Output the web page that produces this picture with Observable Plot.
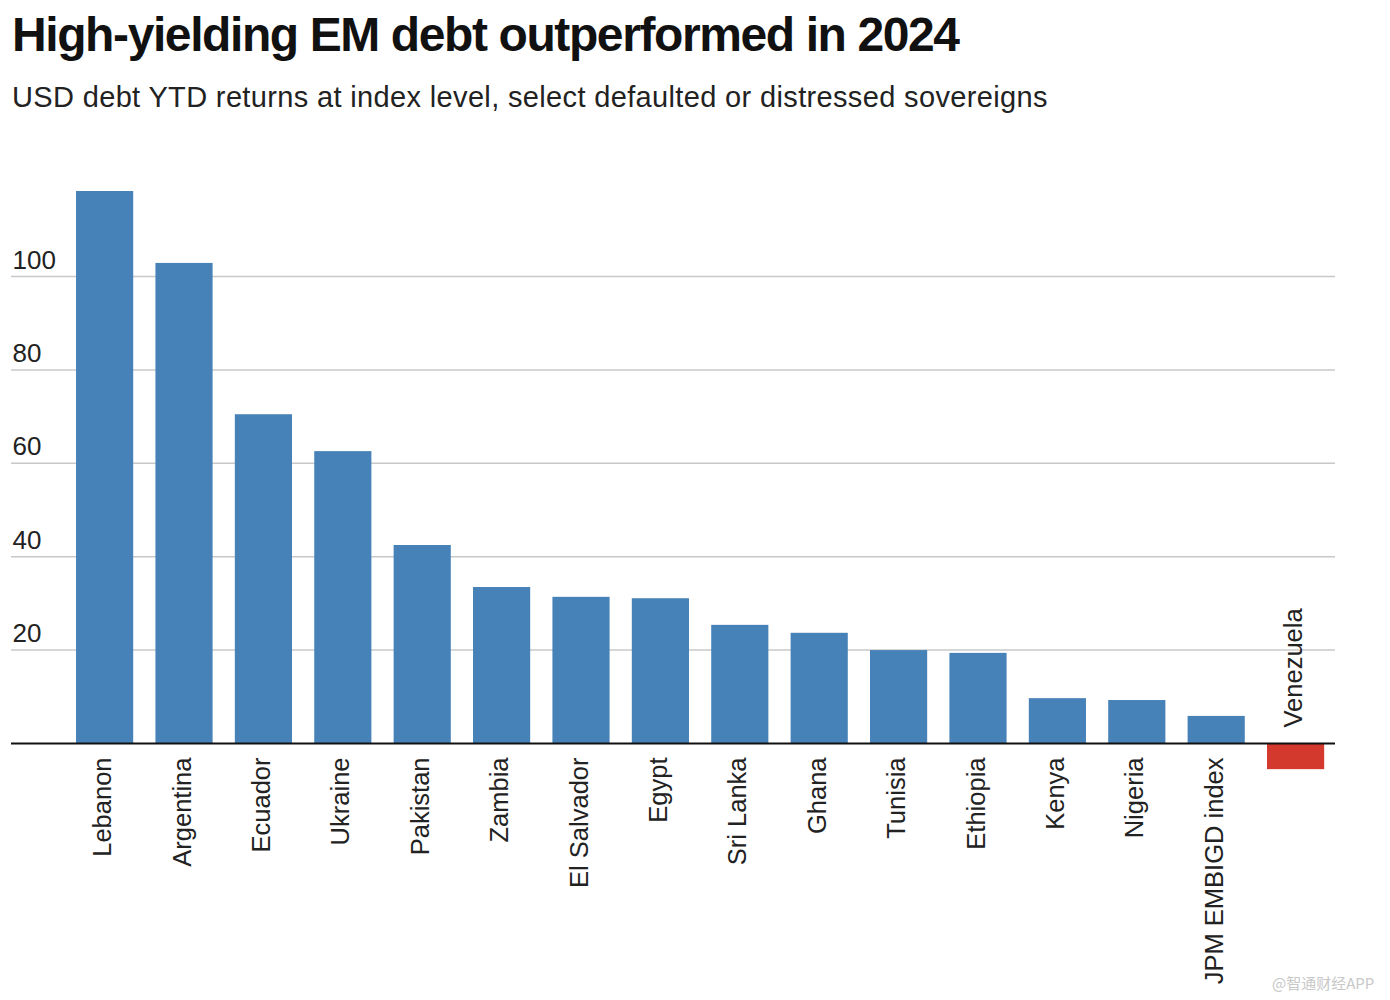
<!DOCTYPE html>
<html>
<head>
<meta charset="utf-8">
<script src="https://cdn.jsdelivr.net/npm/d3@7"></script>
<script src="https://cdn.jsdelivr.net/npm/@observablehq/plot@0.6"></script>
<style>
  html, body { margin: 0; padding: 0; background: #fff; }
  body { width: 1390px; height: 1000px; position: relative; overflow: hidden; font-family: "Liberation Sans", Arial, Helvetica, sans-serif; }
  #title { position: absolute; left: 12px; top: 11px; font-size: 48px; line-height: 48px; font-weight: bold; color: #111; letter-spacing: -1.4px; white-space: nowrap; }
  #subtitle { position: absolute; left: 12px; top: 83px; font-size: 29px; line-height: 29px; color: #222; letter-spacing: 0.35px; white-space: nowrap; }
  #chart { position: absolute; left: 0; top: 130px; }
  #watermark { position: absolute; left: 1272px; top: 972px; font-size: 15px; color: #c8c8c8; font-family: "Noto Sans CJK SC", sans-serif; white-space: nowrap; }
</style>
</head>
<body>
<div id="title">High-yielding EM debt outperformed in 2024</div>
<div id="subtitle">USD debt YTD returns at index level, select defaulted or distressed sovereigns</div>
<div id="chart"></div>
<div id="watermark">@智通财经APP</div>
<script>
const countries = ["Lebanon","Argentina","Ecuador","Ukraine","Pakistan","Zambia","El Salvador","Egypt","Sri Lanka","Ghana","Tunisia","Ethiopia","Kenya","Nigeria","JPM EMBIGD index","Venezuela"];
const returns = [118.2,102.8,70.4,62.5,42.4,33.4,31.3,31.0,25.3,23.6,19.9,19.3,9.6,9.2,5.8,-5.6];
const yTicks = [20,40,60,80,100];

const data = countries.map((c, i) => ({country: c, value: returns[i]}));
const pos = data.filter(d => d.value >= 0);
const neg = data.filter(d => d.value < 0);

const blue = "#4682b8";
const red = "#d3392c";
const font = "Liberation Sans, Arial, Helvetica, sans-serif";

const chart = Plot.plot({
  width: 1390,
  height: 870,
  marginLeft: 11,
  marginRight: 55,
  marginTop: 0,
  marginBottom: 0,
  style: {fontFamily: font, background: "transparent", overflow: "visible"},
  x: {domain: countries, range: [53.8, 1346.4], paddingInner: 0.28, paddingOuter: 0.28, round: false, axis: null},
  y: {domain: [0, 100], range: [613, 146], axis: null},
  marks: [
    Plot.ruleY(yTicks, {stroke: "#c8c8c8", strokeWidth: 1.5}),
    Plot.text(yTicks, {y: d => d, text: d => String(d), frameAnchor: "left", textAnchor: "start", lineAnchor: "bottom", dx: 1, dy: -8, fontSize: 26, fill: "#222"}),
    Plot.barY(pos, {x: "country", y: "value", fill: blue}),
    Plot.barY(neg, {x: "country", y: "value", fill: red}),
    Plot.ruleY([0], {stroke: "#111", strokeWidth: 2}),
    Plot.text(pos, {x: "country", y: () => 0, text: "country", rotate: -90, textAnchor: "end", lineAnchor: "middle", dy: 14, dx: -2, fontSize: 25.5, fill: "#222"}),
    Plot.text(neg, {x: "country", y: () => 0, text: "country", rotate: -90, textAnchor: "start", lineAnchor: "middle", dy: -16, dx: -2, fontSize: 25.5, fill: "#222"})
  ]
});
document.getElementById("chart").appendChild(chart);
</script>
</body>
</html>
